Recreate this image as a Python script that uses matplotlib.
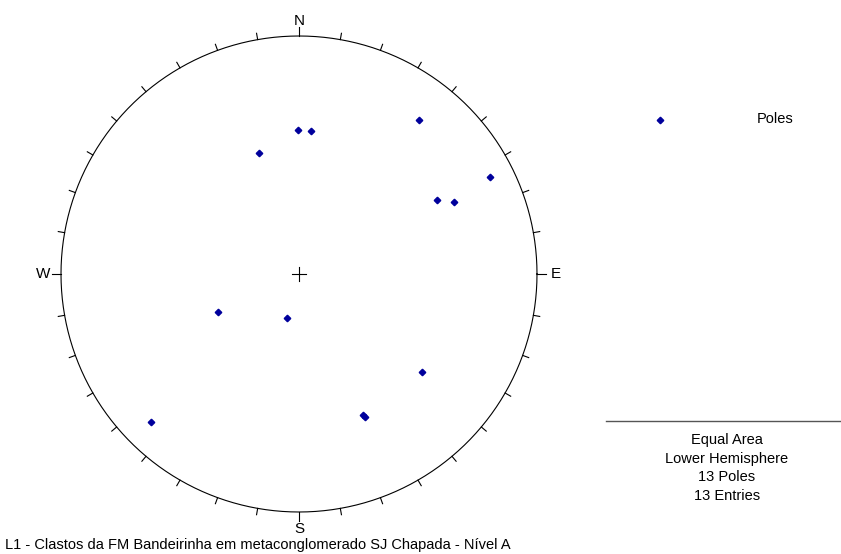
import numpy as np
import matplotlib.pyplot as plt

plt.rcParams['font.family'] = ['Liberation Sans', 'DejaVu Sans']

# pole orientations read from the net (trend / plunge, degrees)
trend = [359.6, 4.8, 37.9, 341.7, 63.1, 61.8, 65.1, 244.8, 195.3, 128.6, 155.6, 155.2, 225.0]
plunge = [39.3, 39.5, 19.1, 45.6, 10.9, 34.5, 29.0, 59.2, 74.4, 34.3, 35.2, 34.2, 13.1]

title = "L1 - Clastos da FM Bandeirinha em metaconglomerado SJ Chapada - Nível A"
info_lines = ["Equal Area", "Lower Hemisphere", "13 Poles", "13 Entries"]
legend_label = "Poles"

W, H = 841, 554
CX, CY, R = 299, 274, 238   # net centre / radius in pixels
pole_color = "#00009c"


def equal_area(tr, pl):
    tr = np.radians(tr)
    theta = np.radians(90 - np.asarray(pl))
    r = np.sqrt(2) * np.sin(theta / 2)
    return r * np.sin(tr), r * np.cos(tr)


fig = plt.figure(figsize=(W / 100, H / 100), dpi=100)
m = 1.1
side = 2 * m * R
ax = fig.add_axes([(CX - m * R) / W, (H - CY - m * R) / H, side / W, side / H])
ax.set_xlim(-m, m)
ax.set_ylim(-m, m)
ax.set_aspect('equal')
ax.axis('off')

t = np.linspace(0, 2 * np.pi, 721)
ax.plot(np.cos(t), np.sin(t), color='black', lw=0.8)

# ticks every 10 degrees
for az in range(0, 360, 10):
    a = np.radians(az)
    L = 0.036 if az % 90 == 0 else 0.027
    ax.plot([np.sin(a), (1 + L) * np.sin(a)], [np.cos(a), (1 + L) * np.cos(a)],
            color='black', lw=0.8)

# centre cross
c = 0.03
ax.plot([-c, c], [0, 0], color='black', lw=0.8)
ax.plot([0, 0], [-c, c], color='black', lw=0.8)

ax.text(0, 1.065, "N", ha='center', va='center', fontsize=11)
ax.text(0, -1.07, "S", ha='center', va='center', fontsize=11)
ax.text(1.08, 0, "E", ha='center', va='center', fontsize=11)
ax.text(-1.075, 0, "W", ha='center', va='center', fontsize=11)

x, y = equal_area(trend, plunge)
ax.plot(x, y, 'D', color=pole_color, markersize=3.3, linestyle='none')

# legend & info block
fig.lines.append(plt.Line2D([660 / W], [1 - 120 / H], marker='D', color=pole_color,
                            markersize=3.3, transform=fig.transFigure))
fig.text(757 / W, 1 - 119 / H, legend_label, ha='left', va='center', fontsize=10.5)
fig.lines.append(plt.Line2D([606 / W, 1.0], [1 - 421 / H, 1 - 421 / H], color='#555555',
                            lw=1, transform=fig.transFigure))
for i, s in enumerate(info_lines):
    fig.text(727 / W, 1 - (440 + 18.5 * i) / H, s, ha='center', va='center', fontsize=10.5)

fig.text(5 / W, 1 - 545 / H, title, ha='left', va='center', fontsize=10.5)

fig.savefig("out.png", dpi=100)
